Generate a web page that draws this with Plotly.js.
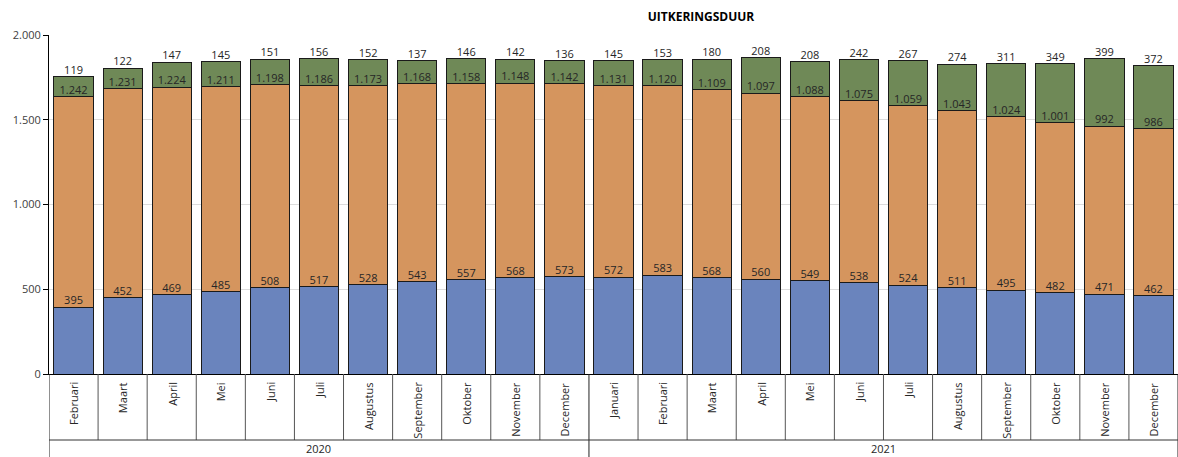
<!DOCTYPE html>
<html><head><meta charset="utf-8">
<script src="https://cdn.plot.ly/plotly-3.0.1.min.js"></script>
<style>html,body{margin:0;padding:0;background:#fff}#chart{width:1178px;height:457px}</style>
</head><body><div id="chart"></div>
<script>
const years = ["2020","2020","2020","2020","2020","2020","2020","2020","2020","2020","2020",
               "2021","2021","2021","2021","2021","2021","2021","2021","2021","2021","2021","2021"];
const months = ["Februari","Maart","April","Mei","Juni","Juli","Augustus","September","Oktober","November","December",
                "Januari","Februari","Maart","April","Mei","Juni","Juli","Augustus","September","Oktober","November","December"];
const seriesBlue = [395,452,469,485,508,517,528,543,557,568,573,572,583,568,560,549,538,524,511,495,482,471,462];
const seriesOrange = [1242,1231,1224,1211,1198,1186,1173,1168,1158,1148,1142,1131,1120,1109,1097,1088,1075,1059,1043,1024,1001,992,986];
const seriesGreen = [119,122,147,145,151,156,152,137,146,142,136,145,153,180,208,208,242,267,274,311,349,399,372];
const yTicks = [0,500,1000,1500,2000];

const cats = months.map((m,i)=>years[i]+" "+m);
const fmt = v => v.toLocaleString('de-DE');
const cum1 = seriesBlue.slice();
const cum2 = seriesBlue.map((v,i)=>v+seriesOrange[i]);
const cum3 = cum2.map((v,i)=>v+seriesGreen[i]);

const line = {color:'#1a1a1a', width:1};
const traces = [
  {type:'bar', x:cats, y:seriesBlue, marker:{color:'#6a84bd', line}, width:0.8},
  {type:'bar', x:cats, y:seriesOrange, marker:{color:'#d5955e', line}, width:0.8},
  {type:'bar', x:cats, y:seriesGreen, marker:{color:'#6f8957', line}, width:0.8},
];
[cum1,cum2,cum3].forEach((c,k)=>{
  const vals=[seriesBlue,seriesOrange,seriesGreen][k];
  traces.push({type:'scatter', mode:'text', x:cats, y:c, text:vals.map(fmt),
    textposition:'top center', textfont:{family:'Open Sans, sans-serif', size:11, color:'#262626'},
    cliponaxis:false});
});

const shapes = [];
const annotations = [];
const rowBottom = -66/339, fullBottom = -90/339;
for (let i=0;i<=cats.length;i++){
  const isYear = i===0 || i===cats.length || years[i]!==years[i-1];
  shapes.push({type:'line', xref:'x', yref:'paper', x0:i-0.5, x1:i-0.5, y0:0, y1:isYear?fullBottom:rowBottom,
    line:{color: isYear?'#222':'#555', width:1}});
}
shapes.push({type:'line', xref:'x', yref:'paper', x0:-0.5, x1:cats.length-0.5, y0:rowBottom, y1:rowBottom, line:{color:'#333',width:1}});
months.forEach((m,i)=>{
  annotations.push({xref:'x', yref:'paper', x:cats[i], y:-6/339, text:m, showarrow:false, textangle:-90,
    xanchor:'center', yanchor:'top', font:{family:'Open Sans, sans-serif', size:11, color:'#262626'}});
});
const uniqYears=[...new Set(years)];
uniqYears.forEach(y=>{
  const idx=years.map((v,i)=>v===y?i:-1).filter(i=>i>=0);
  const mid=(idx[0]+idx[idx.length-1])/2;
  annotations.push({xref:'x', yref:'paper', x:mid, y:-74/339, text:y, showarrow:false, borderpad:0,
    xanchor:'center', yanchor:'middle', font:{family:'Open Sans, sans-serif', size:11, color:'#262626'}});
});

const layout = {
  width:1178, height:457, margin:{l:49, r:0, t:35, b:83},
  paper_bgcolor:'#fff', plot_bgcolor:'#fff', barmode:'stack', showlegend:false, hovermode:false,
  separators:',.',
  title:{text:'<b>UITKERINGSDUUR</b>', xref:'container', x:701/1178, xanchor:'center', yref:'container', y:1-17/457, yanchor:'middle',
    font:{family:'Open Sans, sans-serif', size:12, color:'#000'}},
  xaxis:{type:'category', showticklabels:false, ticks:'', showgrid:false, showline:true, linecolor:'#000', linewidth:1,
    range:[-0.5, cats.length-0.5], zeroline:false},
  yaxis:{range:[0,2000], tickvals:yTicks, ticktext:yTicks.map(fmt), ticks:'outside', ticklen:5, tickcolor:'#000',
    showline:true, linecolor:'#000', linewidth:1, showgrid:true, gridcolor:'#dcdcdc', zeroline:false,
    tickfont:{family:'Open Sans, sans-serif', size:11, color:'#404040'}},
  shapes, annotations
};
Plotly.newPlot('chart', traces, layout, {displayModeBar:false, staticPlot:true});
</script></body></html>
